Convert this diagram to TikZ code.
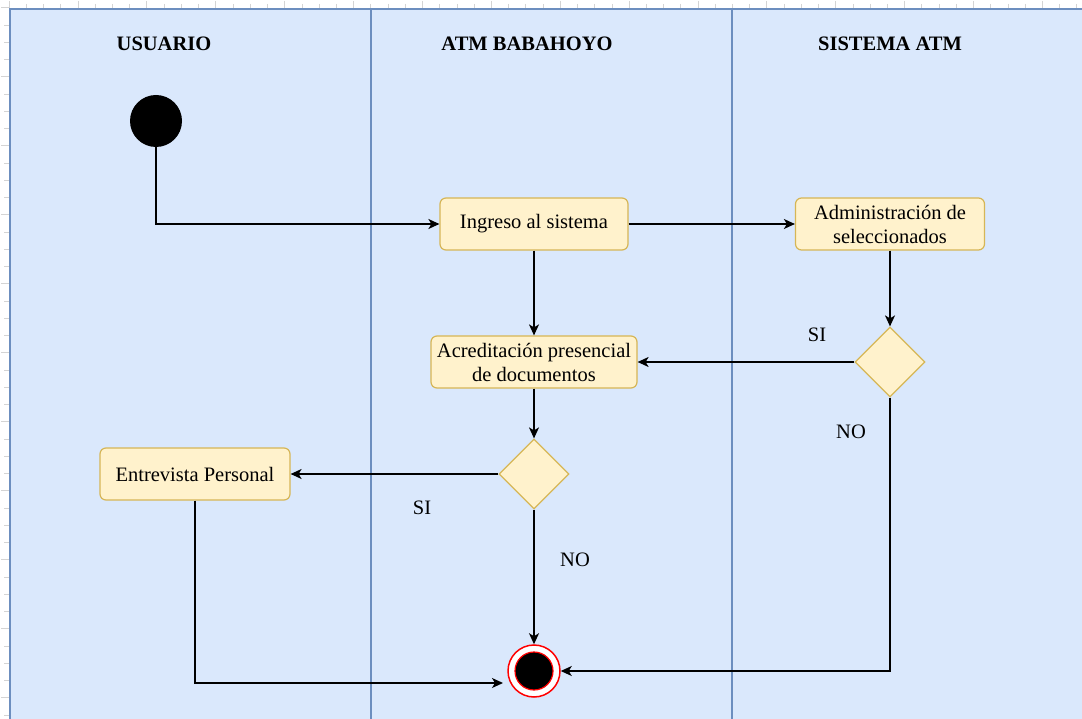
\documentclass[tikz,border=0pt]{standalone}
\usepackage{fontspec}
\setmainfont{Liberation Serif}
\usetikzlibrary{shapes.geometric,arrows.meta}
\definecolor{poolfill}{HTML}{DAE8FC}
\definecolor{poolline}{HTML}{6C8EBF}
\definecolor{boxfill}{HTML}{FFF2CC}
\definecolor{boxline}{HTML}{D6B656}
\definecolor{tickc}{HTML}{D4D4D4}
\tikzset{
 act/.style={draw=boxline, fill=boxfill, rounded corners=6pt, line width=1.2pt, minimum height=52pt, align=center, font=\fontsize{20.5}{24}\selectfont, inner sep=0pt},
 dec/.style={diamond, draw=boxline, fill=boxfill, line width=1.2pt, minimum width=70pt, minimum height=70pt, inner sep=0pt},
 flow/.style={line width=1.5pt, -{Stealth[length=11pt,width=10pt,inset=3pt]}},
 lbl/.style={font=\fontsize{20.5}{24}\selectfont},
 lanetitle/.style={font=\bfseries\fontsize{20.5}{24}\selectfont},
 laneline/.style={draw=poolline, line width=1.2pt},
}
\begin{document}
\begin{tikzpicture}[x=1pt,y=-1pt]
\useasboundingbox (0,0) rectangle (1082,719);
\fill[white] (0,0) rectangle (1082,719);
% grid ticks
\foreach \i in {0,...,62} {
  \pgfmathtruncatemacro{\m}{mod(\i,4)}
  \ifnum\m=0
    \draw[tickc, line width=0.8pt] (9.1+17.22*\i,1) -- (9.1+17.22*\i,9);
  \else
    \draw[tickc, line width=0.6pt] (9.1+17.22*\i,4) -- (9.1+17.22*\i,9);
  \fi
}
\foreach \j in {0,...,41} {
  \pgfmathtruncatemacro{\m}{mod(\j,4)}
  \ifnum\m=0
    \draw[tickc, line width=0.8pt] (1,25+17.25*\j-17.25) -- (10,25+17.25*\j-17.25);
  \else
    \draw[tickc, line width=0.6pt] (4,25+17.25*\j-17.25) -- (10,25+17.25*\j-17.25);
  \fi
}
% pool
\fill[poolfill] (10,9) rectangle (1082,719);
\draw[laneline] (10,719) -- (10,9) -- (1082,9);
\draw[laneline] (371,9) -- (371,719);
\draw[laneline] (732,9) -- (732,719);
\node[lanetitle] (t1) at (164,44) {USUARIO};
\node[lanetitle] (t2) at (527,44) {ATM BABAHOYO};
\node[lanetitle] (t3) at (890,44) {SISTEMA ATM};
% nodes
\node[circle, fill=black, minimum size=52pt, inner sep=0pt] (start) at (156,121) {};
\node[act, minimum width=188pt] (ing) at (534,224) {Ingreso al sistema};
\node[act, minimum width=189pt] (adm) at (890,224) {Administración de\\seleccionados};
\node[dec] (d1) at (890,362) {};
\node[act, minimum width=206pt] (acr) at (534,362) {Acreditación presencial\\de documentos};
\node[dec] (d2) at (534,474) {};
\node[act, minimum width=190pt] (ent) at (195,474) {Entrevista Personal};
\node[circle, draw=red, fill=white, line width=1.5pt, minimum size=52pt, inner sep=0pt] (end) at (534,671) {};
\node[circle, draw=red, fill=black, line width=1.2pt, minimum size=38pt, inner sep=0pt] (endin) at (end.center) {};
\coordinate (endL) at (503,683);
% connectors
\draw[flow] (start.south) |- (ing.west);
\draw[flow] (ing) -- (adm);
\draw[flow] (adm.south) -- (d1.north);
\draw[flow] (d1.west) -- (acr.east);
\draw[flow] (ing.south) -- (acr.north);
\draw[flow] (acr.south) -- (d2.north);
\draw[flow] (d2.west) -- (ent.east);
\draw[flow] (d2.south) -- (end.north);
\draw[flow] (d1.south) |- (end.east);
\draw[flow] (ent.south) |- (endL);
% labels
\node[lbl] (si1) at (817,335) {SI};
\node[lbl] (no1) at (851,432) {NO};
\node[lbl] (si2) at (422,508) {SI};
\node[lbl] (no2) at (575,560) {NO};
\end{tikzpicture}
\end{document}
